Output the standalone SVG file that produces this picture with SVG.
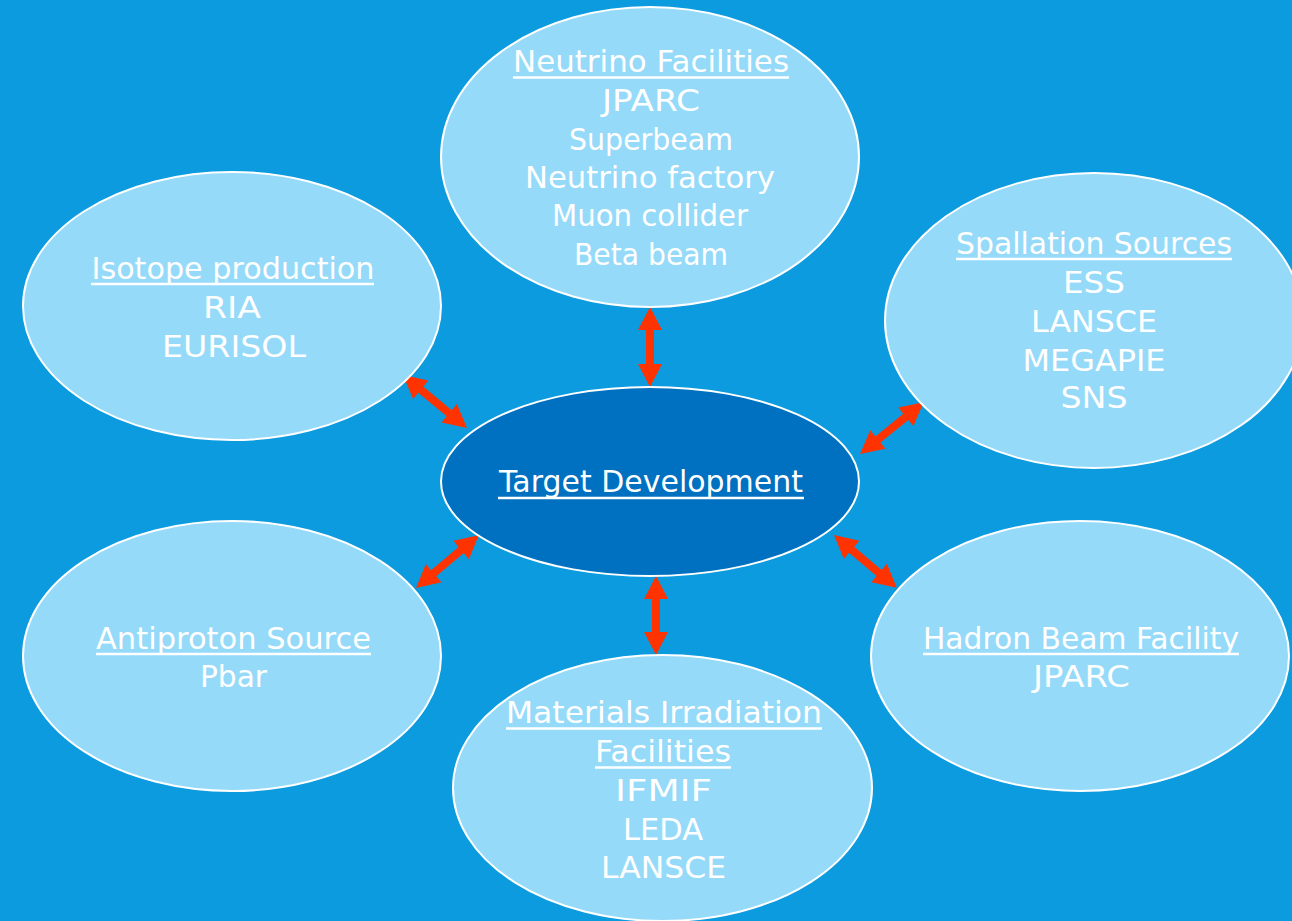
<svg xmlns="http://www.w3.org/2000/svg" width="1292" height="921" viewBox="0 0 1292 921">
  <style>
    .bg { fill: #0B9BDE; }
    .node { fill: #95DAF9; stroke: #FFFFFF; stroke-width: 2; }
    .hub { fill: #0070C0; stroke: #FFFFFF; stroke-width: 2; }
    .lbl { font-family: "DejaVu Sans", "Liberation Sans", sans-serif; font-size: 30.5px; fill: #FFFFFF; text-anchor: middle; }
    .ul { stroke: #FFFFFF; stroke-width: 2.5; }
    .arrow { fill: #FF3300; }
  </style>
  <rect class="bg" x="0" y="0" width="1292" height="921"/>

  <!-- two-way links between the hub and each facility -->
  <g id="connectors">
    <path class="arrow" transform="translate(650,307) rotate(90)" d="M0,0 L23,-12 L23,-4 L57,-4 L57,-12 L80,0 L57,12 L57,4 L23,4 L23,12 Z"/>
    <path class="arrow" transform="translate(656,576) rotate(90)" d="M0,0 L23,-12 L23,-4 L56,-4 L56,-12 L79,0 L56,12 L56,4 L23,4 L23,12 Z"/>
    <path class="arrow" transform="translate(403,375) rotate(39.6)" d="M0,0 L23,-12 L23,-4 L60,-4 L60,-12 L83,0 L60,12 L60,4 L23,4 L23,12 Z"/>
    <path class="arrow" transform="translate(860,454) rotate(-39.1)" d="M0,0 L23,-12 L23,-4 L59,-4 L59,-12 L82,0 L59,12 L59,4 L23,4 L23,12 Z"/>
    <path class="arrow" transform="translate(416,588) rotate(-40.1)" d="M0,0 L23,-12 L23,-4 L59,-4 L59,-12 L82,0 L59,12 L59,4 L23,4 L23,12 Z"/>
    <path class="arrow" transform="translate(834,535) rotate(40.1)" d="M0,0 L23,-12 L23,-4 L59,-4 L59,-12 L82,0 L59,12 L59,4 L23,4 L23,12 Z"/>
  </g>

  <g id="neutrino">
    <ellipse class="node" cx="650" cy="157" rx="209" ry="150"/>
    <text class="lbl" x="651" y="72" textLength="276" lengthAdjust="spacingAndGlyphs">Neutrino Facilities</text>
    <line class="ul" x1="513" y1="77.5" x2="789" y2="77.5"/>
    <text class="lbl" x="651" y="111" textLength="98" lengthAdjust="spacingAndGlyphs">JPARC</text>
    <text class="lbl" x="651" y="150" textLength="164" lengthAdjust="spacingAndGlyphs">Superbeam</text>
    <text class="lbl" x="650" y="188" textLength="250" lengthAdjust="spacingAndGlyphs">Neutrino factory</text>
    <text class="lbl" x="650" y="226" textLength="196" lengthAdjust="spacingAndGlyphs">Muon collider</text>
    <text class="lbl" x="651" y="265" textLength="154" lengthAdjust="spacingAndGlyphs">Beta beam</text>
  </g>

  <g id="isotope">
    <ellipse class="node" cx="232" cy="306" rx="209" ry="134"/>
    <text class="lbl" x="233" y="279" textLength="283" lengthAdjust="spacingAndGlyphs">Isotope production</text>
    <line class="ul" x1="91" y1="284" x2="374" y2="284"/>
    <text class="lbl" x="232" y="318" textLength="58" lengthAdjust="spacingAndGlyphs">RIA</text>
    <text class="lbl" x="234" y="357" textLength="144" lengthAdjust="spacingAndGlyphs">EURISOL</text>
  </g>

  <g id="spallation">
    <ellipse class="node" cx="1094" cy="320.5" rx="209" ry="147.5"/>
    <text class="lbl" x="1094" y="254" textLength="276" lengthAdjust="spacingAndGlyphs">Spallation Sources</text>
    <line class="ul" x1="956" y1="259" x2="1232" y2="259"/>
    <text class="lbl" x="1094" y="293" textLength="62" lengthAdjust="spacingAndGlyphs">ESS</text>
    <text class="lbl" x="1094" y="332" textLength="126" lengthAdjust="spacingAndGlyphs">LANSCE</text>
    <text class="lbl" x="1094" y="371" textLength="143" lengthAdjust="spacingAndGlyphs">MEGAPIE</text>
    <text class="lbl" x="1094" y="408" textLength="67" lengthAdjust="spacingAndGlyphs">SNS</text>
  </g>

  <g id="target">
    <ellipse class="hub" cx="650" cy="481.5" rx="209" ry="94.5"/>
    <text class="lbl" x="651" y="492" textLength="304" lengthAdjust="spacingAndGlyphs">Target Development</text>
    <line class="ul" x1="498" y1="498" x2="804" y2="498"/>
  </g>

  <g id="antiproton">
    <ellipse class="node" cx="232" cy="656" rx="209" ry="135"/>
    <text class="lbl" x="233.5" y="649" textLength="275" lengthAdjust="spacingAndGlyphs">Antiproton Source</text>
    <line class="ul" x1="96" y1="654" x2="371" y2="654"/>
    <text class="lbl" x="233.5" y="687" textLength="67" lengthAdjust="spacingAndGlyphs">Pbar</text>
  </g>

  <g id="hadron">
    <ellipse class="node" cx="1080" cy="656" rx="209" ry="135"/>
    <text class="lbl" x="1081" y="649" textLength="316" lengthAdjust="spacingAndGlyphs">Hadron Beam Facility</text>
    <line class="ul" x1="923" y1="654" x2="1239" y2="654"/>
    <text class="lbl" x="1081.5" y="687" textLength="97" lengthAdjust="spacingAndGlyphs">JPARC</text>
  </g>

  <g id="materials">
    <ellipse class="node" cx="662.5" cy="788" rx="209.5" ry="133"/>
    <text class="lbl" x="664" y="723" textLength="316" lengthAdjust="spacingAndGlyphs">Materials Irradiation</text>
    <line class="ul" x1="506" y1="728.5" x2="822" y2="728.5"/>
    <text class="lbl" x="663" y="762" textLength="136" lengthAdjust="spacingAndGlyphs">Facilities</text>
    <line class="ul" x1="595" y1="767.5" x2="731" y2="767.5"/>
    <text class="lbl" x="663.5" y="801" textLength="97" lengthAdjust="spacingAndGlyphs">IFMIF</text>
    <text class="lbl" x="663" y="840" textLength="80" lengthAdjust="spacingAndGlyphs">LEDA</text>
    <text class="lbl" x="663.5" y="878" textLength="125" lengthAdjust="spacingAndGlyphs">LANSCE</text>
  </g>
</svg>
